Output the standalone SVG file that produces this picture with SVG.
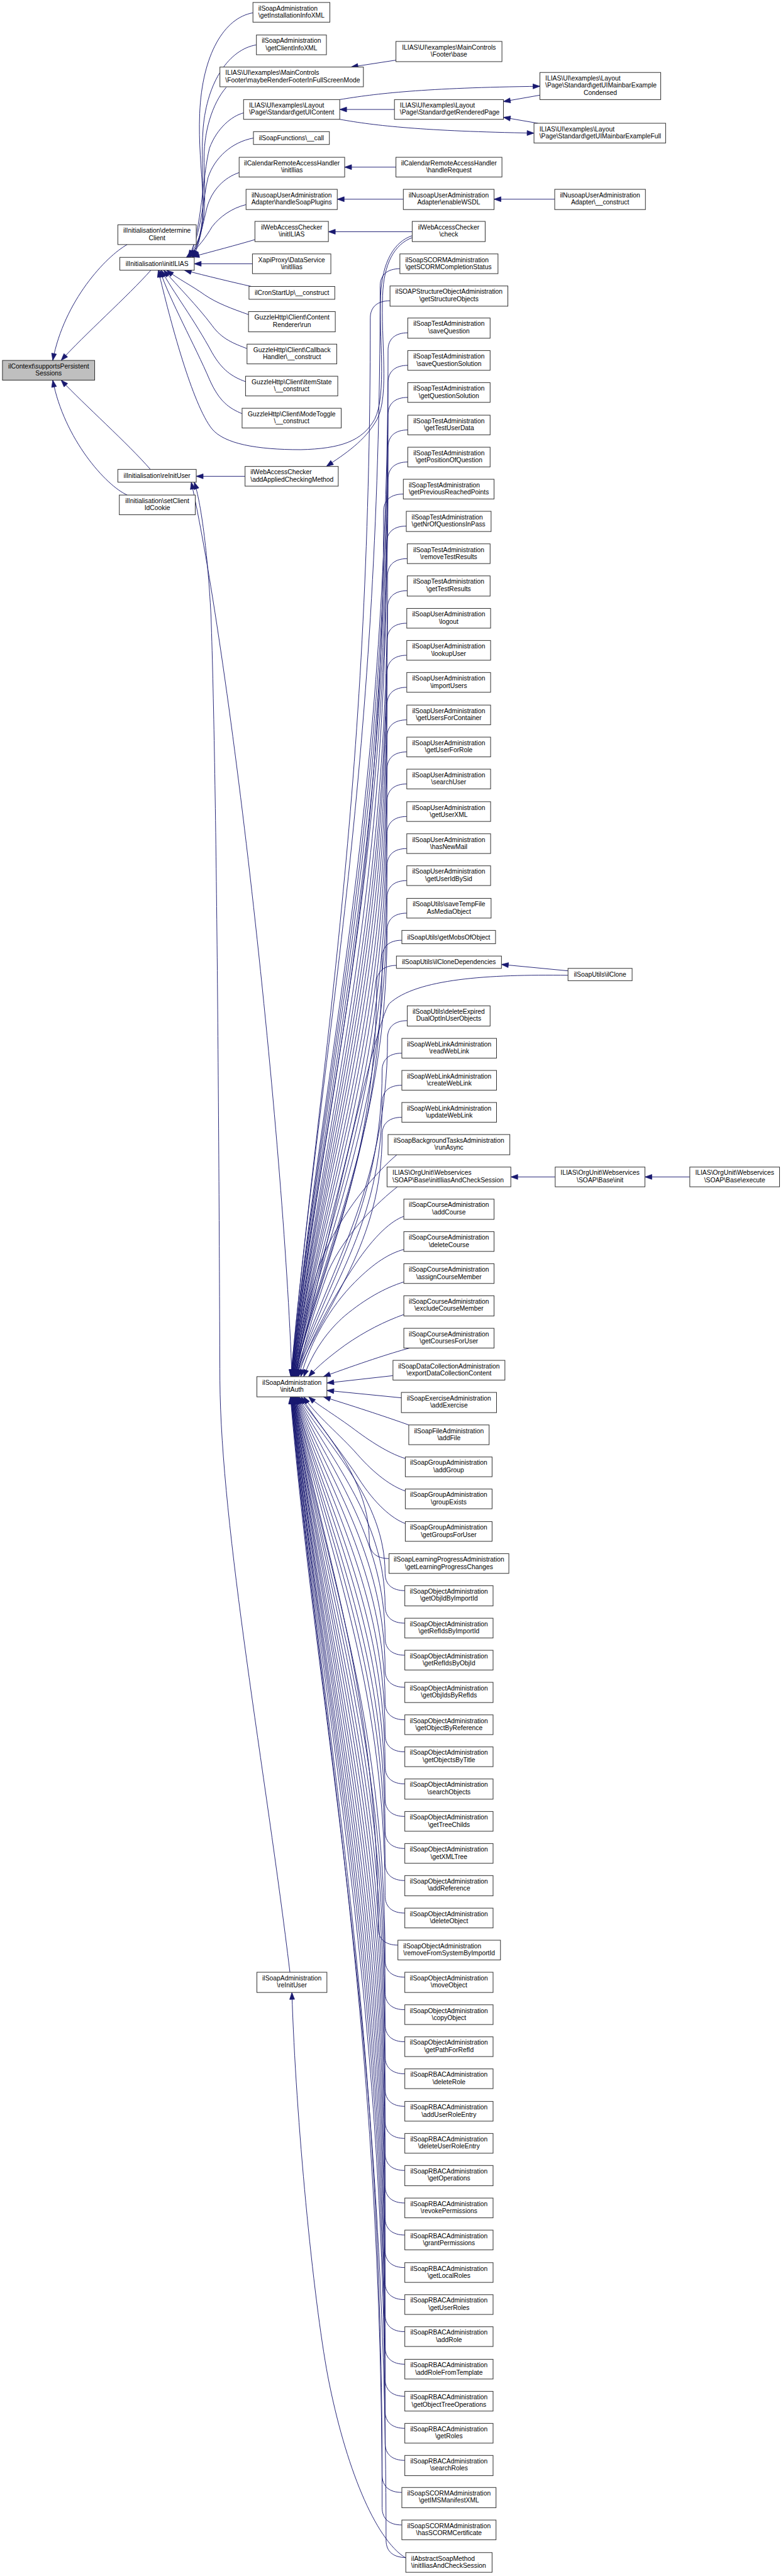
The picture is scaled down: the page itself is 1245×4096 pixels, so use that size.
<svg xmlns="http://www.w3.org/2000/svg" width="1245" height="4096" viewBox="0 0 1245 4096">
<style>
.n rect{fill:#fff;stroke:#333;stroke-width:1.3}
.g rect{fill:#bfbfbf}
text{font-family:"Liberation Sans",Arial,Helvetica,sans-serif;font-size:13.2px;fill:#000}
.m{text-anchor:middle}
.e path{fill:none;stroke:#191970;stroke-width:1.2;marker-end:url(#a)}
</style>
<defs>
<marker id="a" markerUnits="userSpaceOnUse" markerWidth="15" markerHeight="11" refX="14" refY="5" orient="auto" overflow="visible">
<path d="M0,0 L14,5 L0,10 Z" fill="#191970" stroke="#191970" stroke-width="1"/>
</marker>
</defs>
<rect width="1245" height="4096" fill="#fff"/>
<g transform="scale(0.784)">
<g id="edges" class="e">
<path d="M258,496 C215,520 130,610 107,731"/>
<path d="M306,548 C260,600 170,680 124,731"/>
<path d="M305,952 C260,900 170,820 124,771"/>
<path d="M258,1004 C215,985 130,890 107,771"/>
<path d="M513,26 C455,36 410,110 405,230 C400,350 430,440 392,522"/>
<path d="M520,91 C465,100 420,165 412,260 C404,360 428,445 389,522"/>
<path d="M459,177 C430,210 412,270 414,330 C416,410 420,470 386,522"/>
<path d="M494,229 C470,235 440,260 425,300 C410,360 410,460 384,522"/>
<path d="M514,280 C470,288 435,320 422,360 C410,410 410,470 382,522"/>
<path d="M485,350 C455,360 430,385 420,420 C410,460 405,495 380,522"/>
<path d="M499,415 C470,422 445,440 430,460 C418,480 405,500 378,522"/>
<path d="M517,486 C480,497 430,510 390,521"/>
<path d="M512,535 L394,535"/>
<path d="M510,581 C470,572 420,560 374,548"/>
<path d="M504,638 C470,626 440,615 415,598 C390,580 360,565 338,548"/>
<path d="M501,707 C475,697 450,688 430,660 C400,620 360,580 332,548"/>
<path d="M498,774 C470,764 450,750 430,715 C395,650 350,590 327,548"/>
<path d="M491,839 C465,828 445,815 425,770 C395,700 345,610 324,548"/>
<path d="M836,478 C800,490 775,530 772,600 C768,680 785,800 760,850 C735,895 690,910 610,912 C520,912 455,900 430,870 C390,820 345,650 321,548"/>
<path d="M836,482 C800,495 778,535 776,600 C772,690 790,800 765,850 C740,895 700,920 662,946"/>
<path d="M836,470 L666,470"/>
<path d="M803,339 L699,339"/>
<path d="M818,404 L684,404"/>
<path d="M1125,404 L1002,404"/>
<path d="M803,122 L712,136"/>
<path d="M800,222 L689,222"/>
<path d="M689,202 C760,190 860,178 1095,175"/>
<path d="M689,242 C760,255 860,266 1083,270"/>
<path d="M1095,193 L1021,206"/>
<path d="M1091,250 L1021,238"/>
<path d="M497,966 L398,966"/>
<path d="M592,2792 C575,2300 470,1350 388,978"/>
<path d="M588,4000 C540,3600 448,3100 446,2800 C444,2300 440,1600 428,1250 C420,1100 405,1010 394,978"/>
<path d="M823,5188 C760,5150 700,5000 665,4820 C635,4660 600,4300 592,4041"/>
<path d="M1126,2387 L1036,2387"/>
<path d="M1399,2387 L1308,2387"/>
<path d="M1152,1969 L1017,1956"/>
<path d="M811,545 C786,545 771,557 771,580 C771,1575 650,2128 590,2792"/>
<path d="M791,610 C766,610 751,622 751,645 C751,1611 650,2148 590,2792"/>
<path d="M827,675 C802,675 787,687 787,710 C787,1647 651,2167 591,2792"/>
<path d="M827,741 C802,741 787,753 787,776 C787,1683 651,2187 591,2792"/>
<path d="M827,806 C802,806 787,818 787,841 C787,1719 651,2207 591,2792"/>
<path d="M827,872 C802,872 787,884 787,907 C787,1755 652,2226 592,2792"/>
<path d="M827,937 C802,937 787,949 787,972 C787,1791 652,2246 592,2792"/>
<path d="M818,1002 C793,1002 778,1014 778,1037 C778,1827 652,2265 592,2792"/>
<path d="M824,1067 C799,1067 784,1079 784,1102 C784,1863 653,2285 593,2792"/>
<path d="M826,1133 C801,1133 786,1145 786,1168 C786,1899 653,2305 593,2792"/>
<path d="M826,1198 C801,1198 786,1210 786,1233 C786,1935 653,2324 593,2792"/>
<path d="M825,1264 C800,1264 785,1276 785,1299 C785,1971 654,2344 594,2792"/>
<path d="M825,1329 C800,1329 785,1341 785,1364 C785,2007 654,2364 594,2792"/>
<path d="M825,1394 C800,1394 785,1406 785,1429 C785,2042 654,2383 594,2792"/>
<path d="M825,1460 C800,1460 785,1472 785,1495 C785,2079 655,2403 595,2792"/>
<path d="M825,1525 C800,1525 785,1537 785,1560 C785,2114 655,2422 595,2792"/>
<path d="M825,1590 C800,1590 785,1602 785,1625 C785,2150 655,2442 595,2792"/>
<path d="M825,1656 C800,1656 785,1668 785,1691 C785,2186 656,2462 596,2792"/>
<path d="M825,1721 C800,1721 785,1733 785,1756 C785,2222 656,2481 596,2792"/>
<path d="M825,1786 C800,1786 785,1798 785,1821 C785,2258 656,2501 596,2792"/>
<path d="M825,1852 C800,1852 785,1864 785,1887 C785,2294 657,2520 597,2792"/>
<path d="M815,1907 C790,1907 775,1919 775,1942 C775,2325 657,2537 597,2792"/>
<path d="M804,1958 C779,1958 764,1970 764,1993 C764,2353 657,2552 597,2792"/>
<path d="M1152,1978 C990,1976 845,1985 790,2035 C760,2070 658,2560 598,2792"/>
<path d="M826,2070 C801,2070 786,2082 786,2105 C786,2414 658,2586 598,2792"/>
<path d="M815,2136 C790,2136 775,2148 775,2171 C775,2450 659,2606 599,2792"/>
<path d="M815,2201 C790,2201 775,2213 775,2236 C775,2486 659,2625 599,2792"/>
<path d="M815,2266 C790,2266 775,2278 775,2301 C775,2522 660,2645 600,2792"/>
<path d="M805,2342 C765,2375 690,2460 650,2560 C625,2630 610,2720 601,2792"/>
<path d="M806,2407 C770,2435 700,2500 665,2580 C640,2650 615,2730 603,2792"/>
<path d="M819,2467 C795,2475 760,2505 720,2565 C680,2625 625,2720 605,2792"/>
<path d="M819,2534 C790,2542 760,2560 720,2600 C670,2650 630,2720 610,2792"/>
<path d="M819,2600 C780,2612 740,2635 700,2668 C665,2698 635,2740 616,2792"/>
<path d="M819,2666 C780,2680 740,2700 700,2728 C670,2750 645,2770 626,2792"/>
<path d="M831,2734 C790,2745 730,2765 656,2792"/>
<path d="M797,2790 L663,2805"/>
<path d="M814,2835 L663,2820"/>
<path d="M829,2890 C790,2876 730,2856 656,2833"/>
<path d="M822,2958 C795,2950 760,2930 720,2900 C680,2870 645,2850 626,2833"/>
<path d="M822,3024 C795,3015 760,2990 725,2950 C690,2910 640,2870 616,2833"/>
<path d="M822,3090 C795,3080 760,3050 727,2998 C700,2955 640,2880 611,2833"/>
<path d="M789,3161 C764,3161 749,3149 749,3126 C749,3005 666,2913 606,2833"/>
<path d="M821,3226 C796,3226 781,3214 781,3191 C781,3041 664,2933 604,2833"/>
<path d="M821,3292 C796,3292 781,3280 781,3257 C781,3077 663,2953 603,2833"/>
<path d="M821,3357 C796,3357 781,3345 781,3322 C781,3113 662,2972 602,2833"/>
<path d="M821,3422 C796,3422 781,3410 781,3387 C781,3149 661,2992 601,2833"/>
<path d="M821,3488 C796,3488 781,3476 781,3453 C781,3185 660,3012 600,2833"/>
<path d="M821,3553 C796,3553 781,3541 781,3518 C781,3221 659,3031 599,2833"/>
<path d="M821,3618 C796,3618 781,3606 781,3583 C781,3257 658,3051 598,2833"/>
<path d="M821,3684 C796,3684 781,3672 781,3649 C781,3293 658,3070 598,2833"/>
<path d="M821,3749 C796,3749 781,3737 781,3714 C781,3329 657,3090 597,2833"/>
<path d="M821,3814 C796,3814 781,3802 781,3779 C781,3365 657,3109 597,2833"/>
<path d="M821,3880 C796,3880 781,3868 781,3845 C781,3401 656,3129 596,2833"/>
<path d="M807,3945 C782,3945 767,3933 767,3910 C767,3437 656,3149 596,2833"/>
<path d="M821,4010 C796,4010 781,3998 781,3975 C781,3472 655,3168 595,2833"/>
<path d="M821,4076 C796,4076 781,4064 781,4041 C781,3509 655,3188 595,2833"/>
<path d="M821,4141 C796,4141 781,4129 781,4106 C781,3544 655,3207 595,2833"/>
<path d="M821,4206 C796,4206 781,4194 781,4171 C781,3580 654,3227 594,2833"/>
<path d="M821,4272 C796,4272 781,4260 781,4237 C781,3616 654,3247 594,2833"/>
<path d="M821,4337 C796,4337 781,4325 781,4302 C781,3652 654,3266 594,2833"/>
<path d="M821,4402 C796,4402 781,4390 781,4367 C781,3688 653,3286 593,2833"/>
<path d="M821,4468 C796,4468 781,4456 781,4433 C781,3724 653,3306 593,2833"/>
<path d="M821,4533 C796,4533 781,4521 781,4498 C781,3760 653,3325 593,2833"/>
<path d="M821,4599 C796,4599 781,4587 781,4564 C781,3796 652,3345 592,2833"/>
<path d="M821,4664 C796,4664 781,4652 781,4629 C781,3832 652,3364 592,2833"/>
<path d="M821,4729 C796,4729 781,4717 781,4694 C781,3868 652,3384 592,2833"/>
<path d="M821,4795 C796,4795 781,4783 781,4760 C781,3904 651,3404 591,2833"/>
<path d="M821,4860 C796,4860 781,4848 781,4825 C781,3940 651,3423 591,2833"/>
<path d="M821,4925 C796,4925 781,4913 781,4890 C781,3976 651,3443 591,2833"/>
<path d="M821,4990 C796,4990 781,4978 781,4955 C781,4011 650,3462 590,2833"/>
<path d="M815,5055 C790,5055 775,5043 775,5020 C775,4047 650,3482 590,2833"/>
<path d="M815,5121 C790,5121 775,5109 775,5086 C775,4083 650,3501 590,2833"/>
<path d="M823,5187 C798,5187 783,5175 783,5152 C783,4108 649,3529 589,2833"/>
</g>
<g id="n_ctx" class="n g"><rect x="5" y="731" width="187" height="40"/><text class="m"><tspan x="98.5" y="747.3">ilContext\supportsPersistent</tspan><tspan x="98.5" y="761.8">Sessions</tspan></text></g>
<g id="n_detClient" class="n"><rect x="239" y="456" width="159" height="40"/><text class="m"><tspan x="318.5" y="472.3">ilInitialisation\determine</tspan><tspan x="318.5" y="486.8">Client</tspan></text></g>
<g id="n_initILIAS" class="n"><rect x="243" y="522" width="151" height="26"/><text class="m" x="318.5" y="539.7">ilInitialisation\initILIAS</text></g>
<g id="n_reInitUser" class="n"><rect x="239" y="952" width="159" height="26"/><text class="m" x="318.5" y="969.7">ilInitialisation\reInitUser</text></g>
<g id="n_setClientId" class="n"><rect x="242" y="1004" width="154" height="40"/><text class="m"><tspan x="319" y="1020.3">ilInitialisation\setClient</tspan><tspan x="319" y="1034.8">IdCookie</tspan></text></g>
<g id="n_getInstInfo" class="n"><rect x="513" y="5" width="156" height="40"/><text><tspan x="524" y="21.3">ilSoapAdministration</tspan><tspan x="524" y="35.8">\getInstallationInfoXML</tspan></text></g>
<g id="n_getClientInfo" class="n"><rect x="520" y="71" width="142" height="40"/><text class="m"><tspan x="591" y="87.3">ilSoapAdministration</tspan><tspan x="591" y="101.8">\getClientInfoXML</tspan></text></g>
<g id="n_maybeRender" class="n"><rect x="446" y="136" width="291" height="40"/><text><tspan x="457" y="152.3">ILIAS\UI\examples\MainControls</tspan><tspan x="457" y="166.8">\Footer\maybeRenderFooterInFullScreenMode</tspan></text></g>
<g id="n_getUIContent" class="n"><rect x="494" y="202" width="195" height="40"/><text><tspan x="505" y="218.3">ILIAS\UI\examples\Layout</tspan><tspan x="505" y="232.8">\Page\Standard\getUIContent</tspan></text></g>
<g id="n_call" class="n"><rect x="514" y="267" width="154" height="26"/><text class="m" x="591" y="284.7">ilSoapFunctions\__call</text></g>
<g id="n_calInit" class="n"><rect x="485" y="319" width="214" height="40"/><text class="m"><tspan x="592" y="335.3">ilCalendarRemoteAccessHandler</tspan><tspan x="592" y="349.8">\initIlias</tspan></text></g>
<g id="n_handleSoap" class="n"><rect x="499" y="384" width="185" height="41"/><text class="m"><tspan x="591.5" y="400.3">ilNusoapUserAdministration</tspan><tspan x="591.5" y="414.8">Adapter\handleSoapPlugins</tspan></text></g>
<g id="n_wacInit" class="n"><rect x="517" y="449" width="149" height="41"/><text class="m"><tspan x="591.5" y="465.3">ilWebAccessChecker</tspan><tspan x="591.5" y="479.8">\initILIAS</tspan></text></g>
<g id="n_xapi" class="n"><rect x="512" y="515" width="159" height="40"/><text class="m"><tspan x="591.5" y="531.3">XapiProxy\DataService</tspan><tspan x="591.5" y="545.8">\initIlias</tspan></text></g>
<g id="n_cron" class="n"><rect x="505" y="581" width="174" height="26"/><text class="m" x="592" y="598.7">ilCronStartUp\__construct</text></g>
<g id="n_guzzleRun" class="n"><rect x="504" y="632" width="176" height="41"/><text class="m"><tspan x="592" y="648.3">GuzzleHttp\Client\Content</tspan><tspan x="592" y="662.8">Renderer\run</tspan></text></g>
<g id="n_guzzleCb" class="n"><rect x="501" y="698" width="182" height="40"/><text class="m"><tspan x="592" y="714.3">GuzzleHttp\Client\Callback</tspan><tspan x="592" y="728.8">Handler\__construct</tspan></text></g>
<g id="n_guzzleItem" class="n"><rect x="498" y="763" width="187" height="40"/><text class="m"><tspan x="591.5" y="779.3">GuzzleHttp\Client\ItemState</tspan><tspan x="591.5" y="793.8">\__construct</tspan></text></g>
<g id="n_guzzleMode" class="n"><rect x="491" y="828" width="201" height="40"/><text class="m"><tspan x="591.5" y="844.3">GuzzleHttp\Client\ModeToggle</tspan><tspan x="591.5" y="858.8">\__construct</tspan></text></g>
<g id="n_addApplied" class="n"><rect x="497" y="946" width="189" height="40"/><text><tspan x="508" y="962.3">ilWebAccessChecker</tspan><tspan x="508" y="976.8">\addAppliedCheckingMethod</tspan></text></g>
<g id="n_initAuth" class="n"><rect x="521" y="2792" width="142" height="41"/><text class="m"><tspan x="592" y="2808.3">ilSoapAdministration</tspan><tspan x="592" y="2822.8">\initAuth</tspan></text></g>
<g id="n_soapReInit" class="n"><rect x="521" y="4000" width="142" height="41"/><text class="m"><tspan x="592" y="4016.3">ilSoapAdministration</tspan><tspan x="592" y="4030.8">\reInitUser</tspan></text></g>
<g id="n_footerBase" class="n"><rect x="803" y="84" width="215" height="41"/><text class="m"><tspan x="910.5" y="100.3">ILIAS\UI\examples\MainControls</tspan><tspan x="910.5" y="114.8">\Footer\base</tspan></text></g>
<g id="n_renderedPage" class="n"><rect x="800" y="202" width="221" height="40"/><text><tspan x="811" y="218.3">ILIAS\UI\examples\Layout</tspan><tspan x="811" y="232.8">\Page\Standard\getRenderedPage</tspan></text></g>
<g id="n_calHandle" class="n"><rect x="803" y="319" width="215" height="40"/><text class="m"><tspan x="910.5" y="335.3">ilCalendarRemoteAccessHandler</tspan><tspan x="910.5" y="349.8">\handleRequest</tspan></text></g>
<g id="n_enableWSDL" class="n"><rect x="818" y="384" width="184" height="41"/><text class="m"><tspan x="910" y="400.3">ilNusoapUserAdministration</tspan><tspan x="910" y="414.8">Adapter\enableWSDL</tspan></text></g>
<g id="n_check" class="n"><rect x="836" y="449" width="148" height="41"/><text class="m"><tspan x="910" y="465.3">ilWebAccessChecker</tspan><tspan x="910" y="479.8">\check</tspan></text></g>
<g id="n_getSCORMStatus" class="n"><rect x="811" y="515" width="199" height="40"/><text><tspan x="822" y="531.3">ilSoapSCORMAdministration</tspan><tspan x="822" y="545.8">\getSCORMCompletionStatus</tspan></text></g>
<g id="n_getStructure" class="n"><rect x="791" y="580" width="239" height="41"/><text class="m"><tspan x="910.5" y="596.3">ilSOAPStructureObjectAdministration</tspan><tspan x="910.5" y="610.8">\getStructureObjects</tspan></text></g>
<g id="n_saveQuestion" class="n"><rect x="827" y="645" width="167" height="41"/><text class="m"><tspan x="910.5" y="661.3">ilSoapTestAdministration</tspan><tspan x="910.5" y="675.8">\saveQuestion</tspan></text></g>
<g id="n_saveQSol" class="n"><rect x="827" y="711" width="167" height="40"/><text class="m"><tspan x="910.5" y="727.3">ilSoapTestAdministration</tspan><tspan x="910.5" y="741.8">\saveQuestionSolution</tspan></text></g>
<g id="n_getQSol" class="n"><rect x="827" y="776" width="167" height="40"/><text class="m"><tspan x="910.5" y="792.3">ilSoapTestAdministration</tspan><tspan x="910.5" y="806.8">\getQuestionSolution</tspan></text></g>
<g id="n_getTestUserData" class="n"><rect x="827" y="842" width="167" height="40"/><text class="m"><tspan x="910.5" y="858.3">ilSoapTestAdministration</tspan><tspan x="910.5" y="872.8">\getTestUserData</tspan></text></g>
<g id="n_getPosOfQ" class="n"><rect x="827" y="907" width="167" height="40"/><text class="m"><tspan x="910.5" y="923.3">ilSoapTestAdministration</tspan><tspan x="910.5" y="937.8">\getPositionOfQuestion</tspan></text></g>
<g id="n_getPrevReached" class="n"><rect x="818" y="972" width="184" height="40"/><text><tspan x="829" y="988.3">ilSoapTestAdministration</tspan><tspan x="829" y="1002.8">\getPreviousReachedPoints</tspan></text></g>
<g id="n_getNrOfQ" class="n"><rect x="824" y="1037" width="172" height="41"/><text><tspan x="835" y="1053.3">ilSoapTestAdministration</tspan><tspan x="835" y="1067.8">\getNrOfQuestionsInPass</tspan></text></g>
<g id="n_removeTestResults" class="n"><rect x="826" y="1103" width="168" height="40"/><text class="m"><tspan x="910" y="1119.3">ilSoapTestAdministration</tspan><tspan x="910" y="1133.8">\removeTestResults</tspan></text></g>
<g id="n_getTestResults" class="n"><rect x="826" y="1168" width="168" height="41"/><text class="m"><tspan x="910" y="1184.3">ilSoapTestAdministration</tspan><tspan x="910" y="1198.8">\getTestResults</tspan></text></g>
<g id="n_logout" class="n"><rect x="825" y="1234" width="170" height="40"/><text class="m"><tspan x="910" y="1250.3">ilSoapUserAdministration</tspan><tspan x="910" y="1264.8">\logout</tspan></text></g>
<g id="n_lookupUser" class="n"><rect x="825" y="1299" width="170" height="40"/><text class="m"><tspan x="910" y="1315.3">ilSoapUserAdministration</tspan><tspan x="910" y="1329.8">\lookupUser</tspan></text></g>
<g id="n_importUsers" class="n"><rect x="825" y="1364" width="170" height="40"/><text class="m"><tspan x="910" y="1380.3">ilSoapUserAdministration</tspan><tspan x="910" y="1394.8">\importUsers</tspan></text></g>
<g id="n_getUsersForContainer" class="n"><rect x="825" y="1430" width="170" height="40"/><text class="m"><tspan x="910" y="1446.3">ilSoapUserAdministration</tspan><tspan x="910" y="1460.8">\getUsersForContainer</tspan></text></g>
<g id="n_getUserForRole" class="n"><rect x="825" y="1495" width="170" height="40"/><text class="m"><tspan x="910" y="1511.3">ilSoapUserAdministration</tspan><tspan x="910" y="1525.8">\getUserForRole</tspan></text></g>
<g id="n_searchUser" class="n"><rect x="825" y="1560" width="170" height="40"/><text class="m"><tspan x="910" y="1576.3">ilSoapUserAdministration</tspan><tspan x="910" y="1590.8">\searchUser</tspan></text></g>
<g id="n_getUserXML" class="n"><rect x="825" y="1626" width="170" height="40"/><text class="m"><tspan x="910" y="1642.3">ilSoapUserAdministration</tspan><tspan x="910" y="1656.8">\getUserXML</tspan></text></g>
<g id="n_hasNewMail" class="n"><rect x="825" y="1691" width="170" height="40"/><text class="m"><tspan x="910" y="1707.3">ilSoapUserAdministration</tspan><tspan x="910" y="1721.8">\hasNewMail</tspan></text></g>
<g id="n_getUserIdBySid" class="n"><rect x="825" y="1756" width="170" height="40"/><text class="m"><tspan x="910" y="1772.3">ilSoapUserAdministration</tspan><tspan x="910" y="1786.8">\getUserIdBySid</tspan></text></g>
<g id="n_saveTempFile" class="n"><rect x="825" y="1822" width="171" height="40"/><text class="m"><tspan x="910.5" y="1838.3">ilSoapUtils\saveTempFile</tspan><tspan x="910.5" y="1852.8">AsMediaObject</tspan></text></g>
<g id="n_getMobs" class="n"><rect x="815" y="1887" width="190" height="27"/><text class="m" x="910" y="1905">ilSoapUtils\getMobsOfObject</text></g>
<g id="n_cloneDep" class="n"><rect x="804" y="1939" width="213" height="25"/><text class="m" x="910.5" y="1956">ilSoapUtils\ilCloneDependencies</text></g>
<g id="n_clone" class="n"><rect x="1152" y="1964" width="130" height="25"/><text class="m" x="1217" y="1981">ilSoapUtils\ilClone</text></g>
<g id="n_deleteExpired" class="n"><rect x="826" y="2040" width="168" height="41"/><text class="m"><tspan x="910" y="2056.3">ilSoapUtils\deleteExpired</tspan><tspan x="910" y="2070.8">DualOptInUserObjects</tspan></text></g>
<g id="n_readWebLink" class="n"><rect x="815" y="2106" width="192" height="40"/><text class="m"><tspan x="911" y="2122.3">ilSoapWebLinkAdministration</tspan><tspan x="911" y="2136.8">\readWebLink</tspan></text></g>
<g id="n_createWebLink" class="n"><rect x="815" y="2171" width="192" height="40"/><text class="m"><tspan x="911" y="2187.3">ilSoapWebLinkAdministration</tspan><tspan x="911" y="2201.8">\createWebLink</tspan></text></g>
<g id="n_updateWebLink" class="n"><rect x="815" y="2236" width="192" height="40"/><text class="m"><tspan x="911" y="2252.3">ilSoapWebLinkAdministration</tspan><tspan x="911" y="2266.8">\updateWebLink</tspan></text></g>
<g id="n_runAsync" class="n"><rect x="787" y="2301" width="247" height="41"/><text class="m"><tspan x="910.5" y="2317.3">ilSoapBackgroundTasksAdministration</tspan><tspan x="910.5" y="2331.8">\runAsync</tspan></text></g>
<g id="n_orgCheck" class="n"><rect x="785" y="2367" width="251" height="40"/><text><tspan x="796" y="2383.3">ILIAS\OrgUnit\Webservices</tspan><tspan x="796" y="2397.8">\SOAP\Base\initIliasAndCheckSession</tspan></text></g>
<g id="n_baseInit" class="n"><rect x="1126" y="2367" width="182" height="40"/><text class="m"><tspan x="1217" y="2383.3">ILIAS\OrgUnit\Webservices</tspan><tspan x="1217" y="2397.8">\SOAP\Base\init</tspan></text></g>
<g id="n_baseExec" class="n"><rect x="1399" y="2367" width="182" height="40"/><text class="m"><tspan x="1490" y="2383.3">ILIAS\OrgUnit\Webservices</tspan><tspan x="1490" y="2397.8">\SOAP\Base\execute</tspan></text></g>
<g id="n_addCourse" class="n"><rect x="819" y="2432" width="183" height="41"/><text class="m"><tspan x="910.5" y="2448.3">ilSoapCourseAdministration</tspan><tspan x="910.5" y="2462.8">\addCourse</tspan></text></g>
<g id="n_deleteCourse" class="n"><rect x="819" y="2498" width="183" height="40"/><text class="m"><tspan x="910.5" y="2514.3">ilSoapCourseAdministration</tspan><tspan x="910.5" y="2528.8">\deleteCourse</tspan></text></g>
<g id="n_assignCourseMember" class="n"><rect x="819" y="2563" width="183" height="40"/><text class="m"><tspan x="910.5" y="2579.3">ilSoapCourseAdministration</tspan><tspan x="910.5" y="2593.8">\assignCourseMember</tspan></text></g>
<g id="n_excludeCourseMember" class="n"><rect x="819" y="2628" width="183" height="41"/><text class="m"><tspan x="910.5" y="2644.3">ilSoapCourseAdministration</tspan><tspan x="910.5" y="2658.8">\excludeCourseMember</tspan></text></g>
<g id="n_getCoursesForUser" class="n"><rect x="819" y="2694" width="183" height="40"/><text class="m"><tspan x="910.5" y="2710.3">ilSoapCourseAdministration</tspan><tspan x="910.5" y="2724.8">\getCoursesForUser</tspan></text></g>
<g id="n_exportDC" class="n"><rect x="797" y="2759" width="227" height="40"/><text class="m"><tspan x="910.5" y="2775.3">ilSoapDataCollectionAdministration</tspan><tspan x="910.5" y="2789.8">\exportDataCollectionContent</tspan></text></g>
<g id="n_addExercise" class="n"><rect x="814" y="2824" width="193" height="41"/><text class="m"><tspan x="910.5" y="2840.3">ilSoapExerciseAdministration</tspan><tspan x="910.5" y="2854.8">\addExercise</tspan></text></g>
<g id="n_addFile" class="n"><rect x="829" y="2890" width="163" height="40"/><text class="m"><tspan x="910.5" y="2906.3">ilSoapFileAdministration</tspan><tspan x="910.5" y="2920.8">\addFile</tspan></text></g>
<g id="n_addGroup" class="n"><rect x="822" y="2955" width="176" height="40"/><text class="m"><tspan x="910" y="2971.3">ilSoapGroupAdministration</tspan><tspan x="910" y="2985.8">\addGroup</tspan></text></g>
<g id="n_groupExists" class="n"><rect x="822" y="3020" width="176" height="40"/><text class="m"><tspan x="910" y="3036.3">ilSoapGroupAdministration</tspan><tspan x="910" y="3050.8">\groupExists</tspan></text></g>
<g id="n_getGroupsForUser" class="n"><rect x="822" y="3086" width="176" height="40"/><text class="m"><tspan x="910" y="3102.3">ilSoapGroupAdministration</tspan><tspan x="910" y="3116.8">\getGroupsForUser</tspan></text></g>
<g id="n_getLPChanges" class="n"><rect x="789" y="3151" width="243" height="40"/><text class="m"><tspan x="910.5" y="3167.3">ilSoapLearningProgressAdministration</tspan><tspan x="910.5" y="3181.8">\getLearningProgressChanges</tspan></text></g>
<g id="n_getObjIdByImportId" class="n"><rect x="821" y="3216" width="179" height="41"/><text class="m"><tspan x="910.5" y="3232.3">ilSoapObjectAdministration</tspan><tspan x="910.5" y="3246.8">\getObjIdByImportId</tspan></text></g>
<g id="n_getRefIdsByImportId" class="n"><rect x="821" y="3282" width="179" height="40"/><text class="m"><tspan x="910.5" y="3298.3">ilSoapObjectAdministration</tspan><tspan x="910.5" y="3312.8">\getRefIdsByImportId</tspan></text></g>
<g id="n_getRefIdsByObjId" class="n"><rect x="821" y="3347" width="179" height="40"/><text class="m"><tspan x="910.5" y="3363.3">ilSoapObjectAdministration</tspan><tspan x="910.5" y="3377.8">\getRefIdsByObjId</tspan></text></g>
<g id="n_getObjIdsByRefIds" class="n"><rect x="821" y="3412" width="179" height="41"/><text class="m"><tspan x="910.5" y="3428.3">ilSoapObjectAdministration</tspan><tspan x="910.5" y="3442.8">\getObjIdsByRefIds</tspan></text></g>
<g id="n_getObjectByReference" class="n"><rect x="821" y="3478" width="179" height="40"/><text class="m"><tspan x="910.5" y="3494.3">ilSoapObjectAdministration</tspan><tspan x="910.5" y="3508.8">\getObjectByReference</tspan></text></g>
<g id="n_getObjectsByTitle" class="n"><rect x="821" y="3543" width="179" height="40"/><text class="m"><tspan x="910.5" y="3559.3">ilSoapObjectAdministration</tspan><tspan x="910.5" y="3573.8">\getObjectsByTitle</tspan></text></g>
<g id="n_searchObjects" class="n"><rect x="821" y="3608" width="179" height="41"/><text class="m"><tspan x="910.5" y="3624.3">ilSoapObjectAdministration</tspan><tspan x="910.5" y="3638.8">\searchObjects</tspan></text></g>
<g id="n_getTreeChilds" class="n"><rect x="821" y="3674" width="179" height="40"/><text class="m"><tspan x="910.5" y="3690.3">ilSoapObjectAdministration</tspan><tspan x="910.5" y="3704.8">\getTreeChilds</tspan></text></g>
<g id="n_getXMLTree" class="n"><rect x="821" y="3739" width="179" height="40"/><text class="m"><tspan x="910.5" y="3755.3">ilSoapObjectAdministration</tspan><tspan x="910.5" y="3769.8">\getXMLTree</tspan></text></g>
<g id="n_addReference" class="n"><rect x="821" y="3804" width="179" height="41"/><text class="m"><tspan x="910.5" y="3820.3">ilSoapObjectAdministration</tspan><tspan x="910.5" y="3834.8">\addReference</tspan></text></g>
<g id="n_deleteObject" class="n"><rect x="821" y="3870" width="179" height="40"/><text class="m"><tspan x="910.5" y="3886.3">ilSoapObjectAdministration</tspan><tspan x="910.5" y="3900.8">\deleteObject</tspan></text></g>
<g id="n_removeFromSystem" class="n"><rect x="807" y="3935" width="208" height="40"/><text><tspan x="818" y="3951.3">ilSoapObjectAdministration</tspan><tspan x="818" y="3965.8">\removeFromSystemByImportId</tspan></text></g>
<g id="n_moveObject" class="n"><rect x="821" y="4000" width="179" height="41"/><text class="m"><tspan x="910.5" y="4016.3">ilSoapObjectAdministration</tspan><tspan x="910.5" y="4030.8">\moveObject</tspan></text></g>
<g id="n_copyObject" class="n"><rect x="821" y="4066" width="179" height="40"/><text class="m"><tspan x="910.5" y="4082.3">ilSoapObjectAdministration</tspan><tspan x="910.5" y="4096.8">\copyObject</tspan></text></g>
<g id="n_getPathForRefId" class="n"><rect x="821" y="4131" width="179" height="40"/><text class="m"><tspan x="910.5" y="4147.3">ilSoapObjectAdministration</tspan><tspan x="910.5" y="4161.8">\getPathForRefId</tspan></text></g>
<g id="n_deleteRole" class="n"><rect x="821" y="4196" width="179" height="40"/><text class="m"><tspan x="910.5" y="4212.3">ilSoapRBACAdministration</tspan><tspan x="910.5" y="4226.8">\deleteRole</tspan></text></g>
<g id="n_addUserRoleEntry" class="n"><rect x="821" y="4262" width="179" height="40"/><text class="m"><tspan x="910.5" y="4278.3">ilSoapRBACAdministration</tspan><tspan x="910.5" y="4292.8">\addUserRoleEntry</tspan></text></g>
<g id="n_deleteUserRoleEntry" class="n"><rect x="821" y="4327" width="179" height="40"/><text class="m"><tspan x="910.5" y="4343.3">ilSoapRBACAdministration</tspan><tspan x="910.5" y="4357.8">\deleteUserRoleEntry</tspan></text></g>
<g id="n_getOperations" class="n"><rect x="821" y="4392" width="179" height="41"/><text class="m"><tspan x="910.5" y="4408.3">ilSoapRBACAdministration</tspan><tspan x="910.5" y="4422.8">\getOperations</tspan></text></g>
<g id="n_revokePermissions" class="n"><rect x="821" y="4458" width="179" height="40"/><text class="m"><tspan x="910.5" y="4474.3">ilSoapRBACAdministration</tspan><tspan x="910.5" y="4488.8">\revokePermissions</tspan></text></g>
<g id="n_grantPermissions" class="n"><rect x="821" y="4523" width="179" height="40"/><text class="m"><tspan x="910.5" y="4539.3">ilSoapRBACAdministration</tspan><tspan x="910.5" y="4553.8">\grantPermissions</tspan></text></g>
<g id="n_getLocalRoles" class="n"><rect x="821" y="4589" width="179" height="40"/><text class="m"><tspan x="910.5" y="4605.3">ilSoapRBACAdministration</tspan><tspan x="910.5" y="4619.8">\getLocalRoles</tspan></text></g>
<g id="n_getUserRoles" class="n"><rect x="821" y="4654" width="179" height="40"/><text class="m"><tspan x="910.5" y="4670.3">ilSoapRBACAdministration</tspan><tspan x="910.5" y="4684.8">\getUserRoles</tspan></text></g>
<g id="n_addRole" class="n"><rect x="821" y="4719" width="179" height="40"/><text class="m"><tspan x="910.5" y="4735.3">ilSoapRBACAdministration</tspan><tspan x="910.5" y="4749.8">\addRole</tspan></text></g>
<g id="n_addRoleFromTemplate" class="n"><rect x="821" y="4785" width="179" height="40"/><text class="m"><tspan x="910.5" y="4801.3">ilSoapRBACAdministration</tspan><tspan x="910.5" y="4815.8">\addRoleFromTemplate</tspan></text></g>
<g id="n_getObjectTreeOperations" class="n"><rect x="821" y="4850" width="179" height="40"/><text class="m"><tspan x="910.5" y="4866.3">ilSoapRBACAdministration</tspan><tspan x="910.5" y="4880.8">\getObjectTreeOperations</tspan></text></g>
<g id="n_getRoles" class="n"><rect x="821" y="4915" width="179" height="40"/><text class="m"><tspan x="910.5" y="4931.3">ilSoapRBACAdministration</tspan><tspan x="910.5" y="4945.8">\getRoles</tspan></text></g>
<g id="n_searchRoles" class="n"><rect x="821" y="4980" width="179" height="41"/><text class="m"><tspan x="910.5" y="4996.3">ilSoapRBACAdministration</tspan><tspan x="910.5" y="5010.8">\searchRoles</tspan></text></g>
<g id="n_getIMS" class="n"><rect x="815" y="5045" width="191" height="41"/><text class="m"><tspan x="910.5" y="5061.3">ilSoapSCORMAdministration</tspan><tspan x="910.5" y="5075.8">\getIMSManifestXML</tspan></text></g>
<g id="n_hasSCORMCert" class="n"><rect x="815" y="5111" width="191" height="40"/><text class="m"><tspan x="910.5" y="5127.3">ilSoapSCORMAdministration</tspan><tspan x="910.5" y="5141.8">\hasSCORMCertificate</tspan></text></g>
<g id="n_abstractCheck" class="n"><rect x="823" y="5177" width="175" height="40"/><text><tspan x="834" y="5193.3">ilAbstractSoapMethod</tspan><tspan x="834" y="5207.8">\initIliasAndCheckSession</tspan></text></g>
<g id="n_condensed" class="n"><rect x="1095" y="147" width="245" height="55"/><text><tspan x="1106" y="163.3">ILIAS\UI\examples\Layout</tspan><tspan x="1106" y="177.8">\Page\Standard\getUIMainbarExample</tspan><tspan class="m" x="1217.5" y="192.3">Condensed</tspan></text></g>
<g id="n_full" class="n"><rect x="1083" y="250" width="267" height="40"/><text><tspan x="1094" y="266.3">ILIAS\UI\examples\Layout</tspan><tspan x="1094" y="280.8">\Page\Standard\getUIMainbarExampleFull</tspan></text></g>
<g id="n_nuConstruct" class="n"><rect x="1125" y="384" width="184" height="41"/><text class="m"><tspan x="1217" y="400.3">ilNusoapUserAdministration</tspan><tspan x="1217" y="414.8">Adapter\__construct</tspan></text></g>
</g>
</svg>
